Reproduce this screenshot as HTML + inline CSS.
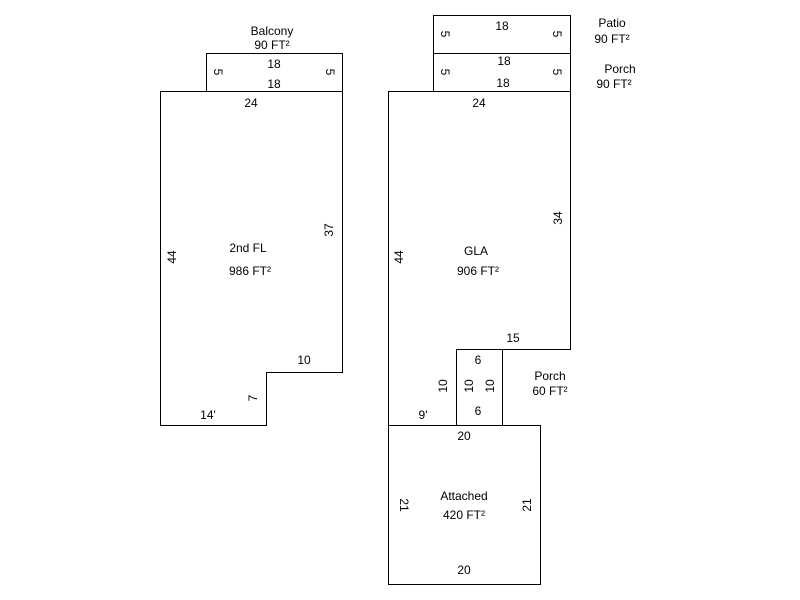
<!DOCTYPE html>
<html><head><style>body{margin:0;background:#fff}svg{display:block}text{font-family:"Liberation Sans",Arial,sans-serif;font-size:12px;fill:#000}</style></head>
<body>
<svg width="800" height="600" viewBox="0 0 800 600" xmlns="http://www.w3.org/2000/svg">
<g fill="none" stroke="#000" stroke-width="1">
<rect x="206.5" y="53.5" width="136" height="38"/>
<path d="M160.5 91.5 H342.5 V372.5 H266.5 V425.5 H160.5 Z"/>
<rect x="433.5" y="15.5" width="137" height="38"/>
<rect x="433.5" y="53.5" width="137" height="38"/>
<path d="M388.5 91.5 H570.5 V349.5 H456.5 V425.5 H388.5 Z"/>
<rect x="456.5" y="349.5" width="46" height="76"/>
<rect x="388.5" y="425.5" width="152" height="159"/>
</g>
<g text-anchor="middle">
<text x="272" y="35">Balcony</text>
<text x="272" y="49">90 FT²</text>
<text x="274" y="68">18</text>
<text x="274" y="88">18</text>
<text transform="translate(214,72) rotate(90)">5</text>
<text transform="translate(326,72) rotate(90)">5</text>
<text x="251" y="107">24</text>
<text x="248" y="252">2nd FL</text>
<text x="250" y="275">986 FT²</text>
<text transform="translate(176,257) rotate(-90)">44</text>
<text transform="translate(333,230) rotate(-90)">37</text>
<text x="304" y="364">10</text>
<text transform="translate(257,398) rotate(-90)">7</text>
<text x="208" y="419">14'</text>
<text x="502" y="30">18</text>
<text transform="translate(441,34) rotate(90)">5</text>
<text transform="translate(553,34) rotate(90)">5</text>
<text x="612" y="27">Patio</text>
<text x="612" y="43">90 FT²</text>
<text x="504" y="65">18</text>
<text x="503" y="87">18</text>
<text transform="translate(441,72) rotate(90)">5</text>
<text transform="translate(553,72) rotate(90)">5</text>
<text x="620" y="73">Porch</text>
<text x="614" y="88">90 FT²</text>
<text x="479" y="107">24</text>
<text x="476" y="255">GLA</text>
<text x="478" y="275">906 FT²</text>
<text transform="translate(403,257) rotate(-90)">44</text>
<text transform="translate(562,218) rotate(-90)">34</text>
<text x="513" y="342">15</text>
<text x="478" y="364">6</text>
<text x="478" y="415">6</text>
<text transform="translate(447,386) rotate(-90)">10</text>
<text transform="translate(473,386) rotate(-90)">10</text>
<text transform="translate(494,386) rotate(-90)">10</text>
<text x="550" y="380">Porch</text>
<text x="550" y="395">60 FT²</text>
<text x="423" y="419">9'</text>
<text x="464" y="440">20</text>
<text x="464" y="500">Attached</text>
<text x="464" y="519">420 FT²</text>
<text transform="translate(400,505) rotate(90)">21</text>
<text transform="translate(531,505) rotate(-90)">21</text>
<text x="464" y="574">20</text>
</g>
</svg>
</body></html>
